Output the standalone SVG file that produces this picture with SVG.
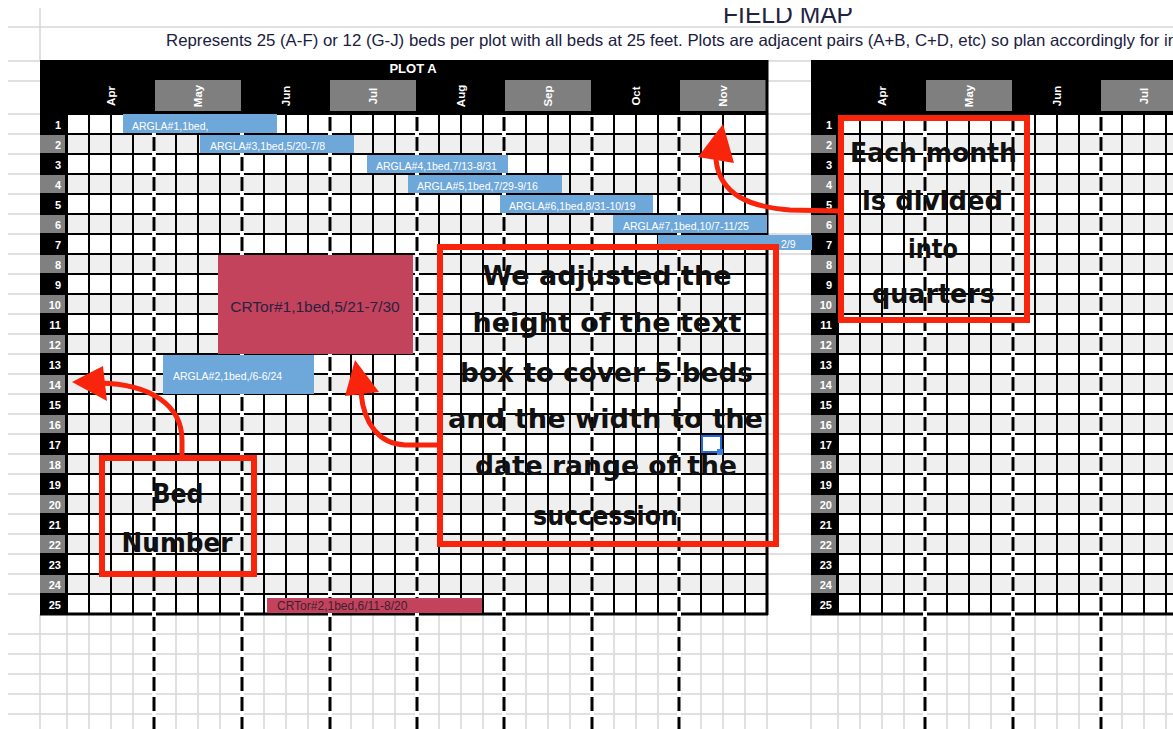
<svg xmlns="http://www.w3.org/2000/svg" width="1173" height="729" viewBox="0 0 1173 729">
<style>
.bg{stroke:#d6d6d6;stroke-width:1.5;fill:none}
.gl{stroke:#000;stroke-width:2;fill:none}
.gb{stroke:#000;stroke-width:3;fill:none}
.ml{stroke:#000;stroke-width:3;stroke-dasharray:14 6;fill:none}
.mw{stroke:#fff;stroke-width:4;fill:none}
.rn{font-family:"Liberation Sans",Arial,sans-serif;font-weight:bold;font-size:11px;fill:#fff;text-anchor:end}
.mo{font-family:"Liberation Sans",Arial,sans-serif;font-weight:bold;font-size:11.5px;fill:#fff;text-anchor:middle;dominant-baseline:central}
.ev{font-family:"Liberation Sans",Arial,sans-serif;font-size:10.5px;fill:#fff}
.blue{fill:#6ea7da}
.crim{fill:#c4435c}
.ann{fill:none;stroke:#f8240b;stroke-width:6}
.arr{fill:none;stroke:#f8240b;stroke-width:5;stroke-linecap:round}
.ah{fill:#f8240b}
.hand{font-family:"DejaVu Sans",sans-serif;font-weight:bold;font-size:27px;fill:#111;text-anchor:middle}
</style>
<defs>
<g id="plotgrid">
  <rect x="40" y="60" width="727" height="54" fill="#000"/>
  <rect x="155" y="80" width="86" height="31" fill="#7f7f7f"/>
  <rect x="330" y="80" width="86" height="31" fill="#7f7f7f"/>
  <rect x="505" y="80" width="86" height="31" fill="#7f7f7f"/>
  <rect x="680" y="80" width="86" height="31" fill="#7f7f7f"/>
  <text class="mo" transform="translate(110.75 96) rotate(-90)">Apr</text>
  <text class="mo" transform="translate(198.25 96) rotate(-90)">May</text>
  <text class="mo" transform="translate(285.75 96) rotate(-90)">Jun</text>
  <text class="mo" transform="translate(373.25 96) rotate(-90)">Jul</text>
  <text class="mo" transform="translate(460.75 96) rotate(-90)">Aug</text>
  <text class="mo" transform="translate(548.25 96) rotate(-90)">Sep</text>
  <text class="mo" transform="translate(635.75 96) rotate(-90)">Oct</text>
  <text class="mo" transform="translate(723.25 96) rotate(-90)">Nov</text>
  <rect x="40" y="114" width="27" height="500" fill="#000"/>
  <rect x="67" y="114" width="700" height="500" fill="#fff"/>
  <g fill="#efefef">
    <rect x="67" y="134" width="700" height="20"/><rect x="67" y="174" width="700" height="20"/>
    <rect x="67" y="214" width="700" height="20"/><rect x="67" y="254" width="700" height="20"/>
    <rect x="67" y="294" width="700" height="20"/><rect x="67" y="334" width="700" height="20"/>
    <rect x="67" y="374" width="700" height="20"/><rect x="67" y="414" width="700" height="20"/>
    <rect x="67" y="454" width="700" height="20"/><rect x="67" y="494" width="700" height="20"/>
    <rect x="67" y="534" width="700" height="20"/><rect x="67" y="574" width="700" height="20"/>
  </g>
  <g fill="#808080">
    <rect x="40" y="135" width="25" height="18"/><rect x="40" y="175" width="25" height="18"/>
    <rect x="40" y="215" width="25" height="18"/><rect x="40" y="255" width="25" height="18"/>
    <rect x="40" y="295" width="25" height="18"/><rect x="40" y="335" width="25" height="18"/>
    <rect x="40" y="375" width="25" height="18"/><rect x="40" y="415" width="25" height="18"/>
    <rect x="40" y="455" width="25" height="18"/><rect x="40" y="495" width="25" height="18"/>
    <rect x="40" y="535" width="25" height="18"/><rect x="40" y="575" width="25" height="18"/>
  </g>
  <g class="rn">
    <text x="61" y="129">1</text><text x="61" y="149">2</text><text x="61" y="169">3</text>
    <text x="61" y="189">4</text><text x="61" y="209">5</text><text x="61" y="229">6</text>
    <text x="61" y="249">7</text><text x="61" y="269">8</text><text x="61" y="289">9</text>
    <text x="61" y="309">10</text><text x="61" y="329">11</text><text x="61" y="349">12</text>
    <text x="61" y="369">13</text><text x="61" y="389">14</text><text x="61" y="409">15</text>
    <text x="61" y="429">16</text><text x="61" y="449">17</text><text x="61" y="469">18</text>
    <text x="61" y="489">19</text><text x="61" y="509">20</text><text x="61" y="529">21</text>
    <text x="61" y="549">22</text><text x="61" y="569">23</text><text x="61" y="589">24</text>
    <text x="61" y="609">25</text>
  </g>
  <path class="bg" d="M40 614V729M67 614V729M89 614V729M111 614V729M133 614V729M154 614V729M176 614V729M198 614V729M220 614V729M242 614V729M264 614V729M286 614V729M308 614V729M330 614V729M351 614V729M373 614V729M395 614V729M417 614V729M439 614V729M461 614V729M483 614V729M504 614V729M526 614V729M548 614V729M570 614V729M592 614V729M614 614V729M636 614V729M658 614V729M679 614V729M701 614V729M723 614V729M745 614V729M767 614V729"/>
  <path class="gl" d="M67 114H767M67 134H767M67 154H767M67 174H767M67 194H767M67 214H767M67 234H767M67 254H767M67 274H767M67 294H767M67 314H767M67 334H767M67 354H767M67 374H767M67 394H767M67 414H767M67 434H767M67 454H767M67 474H767M67 494H767M67 514H767M67 534H767M67 554H767M67 574H767M67 594H767"/>
  <path class="gl" d="M67 114V614M89 114V614M111 114V614M133 114V614M176 114V614M198 114V614M220 114V614M264 114V614M286 114V614M308 114V614M351 114V614M373 114V614M395 114V614M439 114V614M461 114V614M483 114V614M526 114V614M548 114V614M570 114V614M614 114V614M636 114V614M658 114V614M701 114V614M723 114V614M745 114V614"/>
  <path class="gb" d="M767 60V615M40 614H768"/>
  <path class="mw" d="M154 116V729M242 116V729M330 116V729M417 116V729M504 116V729M592 116V729M679 116V729"/>
  <path class="ml" d="M154 117V729M242 117V729M330 117V729M417 117V729M504 117V729M592 117V729M679 117V729"/>
</g>
</defs>

<rect x="0" y="0" width="1173" height="729" fill="#fff"/>
<g id="sheet-lines">
  <path class="bg" d="M8 27H1173M8 61H1173M8 81H1173M8 114H1173M8 134H1173M8 154H1173M8 174H1173M8 194H1173M8 214H1173M8 234H1173M8 254H1173M8 274H1173M8 294H1173M8 314H1173M8 334H1173M8 354H1173M8 374H1173M8 394H1173M8 414H1173M8 434H1173M8 454H1173M8 474H1173M8 494H1173M8 514H1173M8 534H1173M8 554H1173M8 574H1173M8 594H1173M8 634H1173M8 654H1173M8 674H1173M8 694H1173M8 714H1173M40 8V61"/>
</g>

<g id="title">
  <text x="723" y="23" font-family="Liberation Sans, Arial, sans-serif" font-size="26" fill="#1d2340" textLength="130" lengthAdjust="spacingAndGlyphs">FIELD MAP</text>
  <rect x="600" y="0" width="400" height="8" fill="#fff"/>
  <text x="166" y="46" font-family="Liberation Sans, Arial, sans-serif" font-size="16.5" fill="#1a2040" textLength="1011" lengthAdjust="spacingAndGlyphs">Represents 25 (A-F) or 12 (G-J) beds per plot with all beds at 25 feet. Plots are adjacent pairs (A+B, C+D, etc) so plan accordingly for in</text>
</g>

<g id="plot-a">
  <use href="#plotgrid"/>
  <text x="413" y="73" text-anchor="middle" font-family="Liberation Sans, Arial, sans-serif" font-weight="bold" font-size="13" fill="#fff">PLOT A</text>
</g>
<g id="plot-b">
  <use href="#plotgrid" x="771"/>
</g>

<g id="successions">
  <g id="argla1"><rect class="blue" x="123" y="114" width="154" height="19"/><text class="ev" x="132" y="130">ARGLA#1,1bed,</text></g>
  <g id="argla3"><rect class="blue" x="200" y="135" width="154" height="18"/><text class="ev" x="210" y="150">ARGLA#3,1bed,5/20-7/8</text></g>
  <g id="argla4"><rect class="blue" x="367" y="155" width="141" height="18"/><text class="ev" x="376" y="170">ARGLA#4,1bed,7/13-8/31</text></g>
  <g id="argla5"><rect class="blue" x="408" y="175" width="154" height="18"/><text class="ev" x="417" y="190">ARGLA#5,1bed,7/29-9/16</text></g>
  <g id="argla6"><rect class="blue" x="500" y="195" width="153" height="18"/><text class="ev" x="509" y="210">ARGLA#6,1bed,8/31-10/19</text></g>
  <g id="argla7"><rect class="blue" x="613" y="215" width="154" height="18"/><text class="ev" x="623" y="230">ARGLA#7,1bed,10/7-11/25</text></g>
  <g id="argla8"><rect class="blue" x="658" y="235" width="154" height="15"/><text class="ev" x="781" y="248">2/9</text></g>
  <g id="argla2"><rect class="blue" x="163" y="355" width="151" height="39"/><text class="ev" x="173" y="380">ARGLA#2,1bed,/6-6/24</text></g>
  <g id="crtor1"><rect class="crim" x="218" y="255" width="195" height="99"/><text x="315" y="312" text-anchor="middle" font-family="Liberation Sans, Arial, sans-serif" font-size="15.5" fill="#2a2140">CRTor#1,1bed,5/21-7/30</text></g>
  <g id="crtor2"><rect class="crim" x="267" y="598" width="215" height="15"/><text x="277" y="610" font-family="Liberation Sans, Arial, sans-serif" font-size="12" fill="#3a1f35">CRTor#2,1bed,6/11-8/20</text></g>
</g>

<g id="selection">
  <rect x="702" y="436" width="19" height="16" fill="none" stroke="#2266dd" stroke-width="2"/>
  <rect x="717" y="449" width="6" height="6" fill="#3a7de0"/>
</g>

<g id="connectors">
  <path class="arr" d="M182 458L182 440C182 405 150 384 100 383"/>
  <polygon class="ah" points="72,382 103,366 107,401"/>
  <path class="arr" d="M440 445L405 445C380 444 364 425 361 393"/>
  <polygon class="ah" points="355,360 345,396 379,392"/>
  <path class="arr" d="M840 211L790 210C750 207 720 195 716 160"/>
  <polygon class="ah" points="723,124 698,157 734,163"/>
</g>

<g id="note-adjusted">
  <rect class="ann" x="440" y="247" width="336" height="297"/>
  <text class="hand" x="607" y="285" textLength="249" lengthAdjust="spacingAndGlyphs">We adjusted the</text>
  <text class="hand" x="607" y="332" textLength="269" lengthAdjust="spacingAndGlyphs">height of the text</text>
  <text class="hand" x="606.5" y="382" textLength="293" lengthAdjust="spacingAndGlyphs">box to cover 5 beds</text>
  <text class="hand" x="605.5" y="428" textLength="315" lengthAdjust="spacingAndGlyphs">and the width to the</text>
  <text class="hand" x="606" y="475" textLength="262" lengthAdjust="spacingAndGlyphs">date range of the</text>
  <text class="hand" x="605.5" y="525" textLength="145" lengthAdjust="spacingAndGlyphs">succession</text>
</g>

<g id="note-bed">
  <rect class="ann" x="102" y="458" width="152" height="116"/>
  <text class="hand" x="178" y="503" textLength="51" lengthAdjust="spacingAndGlyphs">Bed</text>
  <text class="hand" x="177" y="552" textLength="111" lengthAdjust="spacingAndGlyphs">Number</text>
</g>

<g id="note-month">
  <rect class="ann" x="841" y="118" width="186" height="202"/>
  <text class="hand" x="933.5" y="162" textLength="167" lengthAdjust="spacingAndGlyphs">Each month</text>
  <text class="hand" x="932.5" y="210" textLength="141" lengthAdjust="spacingAndGlyphs">is divided</text>
  <text class="hand" x="933" y="258" textLength="50" lengthAdjust="spacingAndGlyphs">into</text>
  <text class="hand" x="933.5" y="303" textLength="123" lengthAdjust="spacingAndGlyphs">quarters</text>
</g>
</svg>
